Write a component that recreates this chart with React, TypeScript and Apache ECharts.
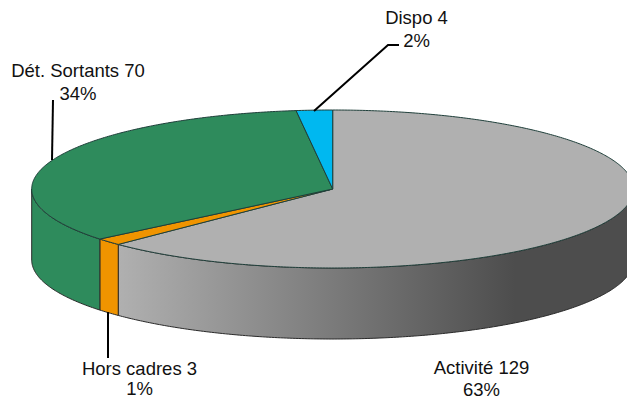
import React, { useEffect, useRef } from "react";
import * as echarts from "echarts";

const categories = ["Activité", "Hors cadres", "Dét. Sortants", "Dispo"];
const values = [129, 3, 70, 4];
const percents = [63, 1, 34, 2];
const topColors = ["#b0b0b0", "#f09400", "#2e8b5c", "#00b8f0"];
const sideColors = ["#b0b0b0", "#f09400", "#2e8b5c", "#00b8f0"];

const CX = 332.7, CY = 189, RX = 301, RY = 79, DEPTH = 71;
const total = values.reduce((a, b) => a + b, 0);
const px = (a: number) => CX + RX * Math.sin(a);
const py = (a: number) => CY - RY * Math.cos(a);

function arcPoints(a0: number, a1: number, dy = 0) {
  const n = Math.max(2, Math.ceil(Math.abs(a1 - a0) / 0.01));
  const out: number[][] = [];
  for (let i = 0; i <= n; i++) {
    const a = a0 + ((a1 - a0) * i) / n;
    out.push([px(a), py(a) + dy]);
  }
  return out;
}

const toPath = (pts: number[][]) =>
  "M" + pts.map((p) => p[0].toFixed(2) + " " + p[1].toFixed(2)).join("L") + "Z";

const labels = [
  { anchor: [481.5, 378], lh: 22 },
  { anchor: [139.5, 378.5], lh: 20.5 },
  { anchor: [78, 81.5], lh: 23 },
  { anchor: [416.5, 28.5], lh: 23 },
];
const leaders = [
  null,
  [[108, 312], [108, 358]],
  [[53, 100], [52, 160]],
  [[314, 111], [388, 45], [399, 45]],
];

export default function App() {
  const ref = useRef<HTMLDivElement>(null);
  useEffect(() => {
    document.body.style.margin = "0";
    const chart = echarts.init(ref.current!, undefined, { renderer: "svg" });
    let acc = 0;
    const spans = values.map((v) => {
      const s = [(acc / total) * Math.PI * 2, ((acc + v) / total) * Math.PI * 2];
      acc += v;
      return s;
    });
    chart.setOption({
      animation: false,
      backgroundColor: "#ffffff",
      series: [
        {
          type: "custom",
          coordinateSystem: "none",
          clip: false,
          silent: true,
          data: values.map((v, i) => [i, v]),
          renderItem: (params: any) => {
            const i = params.dataIndex;
            const [a0, a1] = spans[i];
            const children: any[] = [];
            // outer wall: only the part facing the viewer (angles 90deg..270deg)
            const w0 = Math.max(a0, Math.PI / 2);
            const w1 = Math.min(a1, (3 * Math.PI) / 2);
            if (w1 > w0) {
              const pts = [...arcPoints(w0, w1), ...arcPoints(w1, w0, DEPTH)];
              const fill =
                i === 0
                  ? new echarts.graphic.LinearGradient(
                      0, 0, 1, 0,
                      [
                        { offset: 0, color: "#b0b0b0" },
                        { offset: 0.77, color: "#4d4d4d" },
                        { offset: 1, color: "#4d4d4d" },
                      ],
                      false
                    )
                  : sideColors[i];
              children.push({
                type: "path",
                shape: { pathData: toPath(pts) },
                style: { fill, stroke: "#2a2a2a", lineWidth: 1 },
              });
            }
            return { type: "group", children };
          },
        },
        {
          type: "custom",
          coordinateSystem: "none",
          clip: false,
          silent: true,
          data: values.map((v, i) => [i, v]),
          renderItem: (params: any) => {
            const i = params.dataIndex;
            const [a0, a1] = spans[i];
            const pts = [[CX, CY], ...arcPoints(a0, a1)];
            return {
              type: "path",
              shape: { pathData: toPath(pts) },
              style: { fill: topColors[i], stroke: "#1f3f3a", lineWidth: 1 },
            };
          },
        },
        {
          type: "custom",
          coordinateSystem: "none",
          clip: false,
          silent: true,
          z: 5,
          data: values.map((v, i) => [i, v]),
          renderItem: (params: any) => {
            const i = params.dataIndex;
            const children: any[] = [];
            const l = leaders[i];
            if (l)
              children.push({
                type: "polyline",
                shape: { points: l },
                style: { fill: "none", stroke: "#000000", lineWidth: 2 },
              });
            children.push({
              type: "text",
              x: labels[i].anchor[0],
              y: labels[i].anchor[1],
              style: {
                text: `${categories[i]} ${values[i]}\n${percents[i]}%`,
                fill: "#111111",
                font: "18.5px 'Liberation Sans', Arial, sans-serif",
                lineHeight: labels[i].lh,
                align: "center",
                verticalAlign: "middle",
              },
            });
            return { type: "group", children };
          },
        },
      ],
    });
    return () => chart.dispose();
  }, []);
  return <div ref={ref} style={{ width: 627, height: 399, overflow: "hidden" }} />;
}
